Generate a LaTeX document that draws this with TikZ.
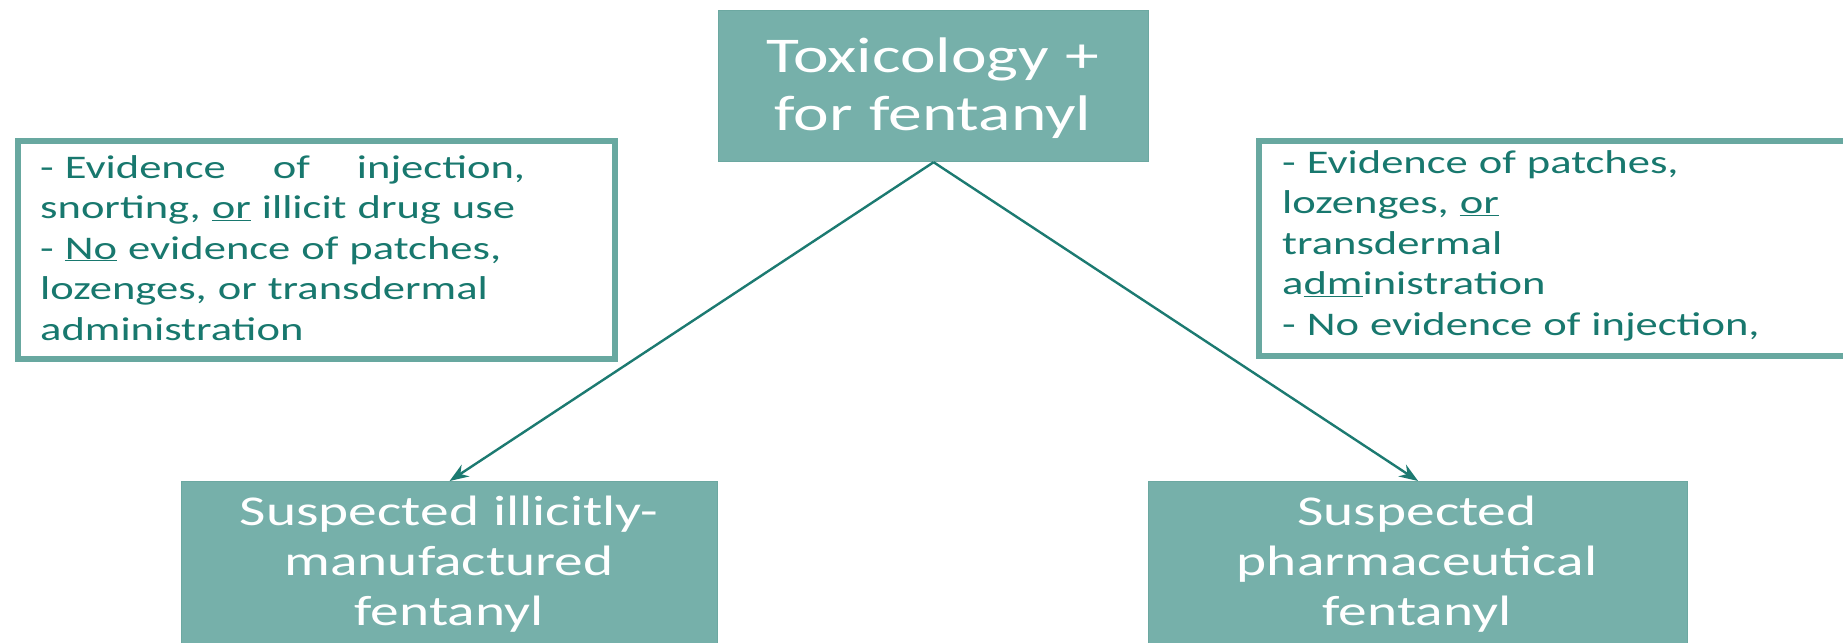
\documentclass[tikz,border=0pt]{standalone}
\usepackage{fontspec}
\setmainfont{Carlito}[FakeStretch=1.35]
\usetikzlibrary{arrows.meta}

\definecolor{boxfill}{RGB}{118,176,170}
\definecolor{boxedge}{RGB}{108,168,161}
\definecolor{noteedge}{RGB}{104,168,160}
\definecolor{notetext}{RGB}{24,120,110}
\definecolor{connteal}{RGB}{28,122,113}

% slightly wider word spacing for the criteria lists
\newcommand\notefontsetup{\fontsize{33}{40.5}\selectfont\spaceskip=0.33em plus 0.1em\relax}

\tikzset{
  tealbox/.style={rectangle, fill=boxfill, draw=boxedge, line width=1.2pt,
    inner sep=0pt, anchor=north west},
  notebox/.style={rectangle, draw=noteedge, line width=6pt, fill=white,
    inner sep=0pt, anchor=north west},
  headtext/.style={anchor=base, inner sep=0pt, text width=420pt, align=center,
    text=white, font=\fontsize{50}{57}\selectfont},
  resulttext/.style={anchor=base, inner sep=0pt, text width=530pt, align=center,
    text=white, font=\fontsize{42.5}{50}\selectfont},
  notetextstyle/.style={anchor=base west, inner sep=0pt, text width=560pt, align=left,
    text=notetext, font=\notefontsetup},
  conn/.style={draw=connteal, line width=2.4pt,
    -{Stealth[length=19pt, width=14pt]}}
}

\begin{document}
\begin{tikzpicture}[x=1pt, y=-1pt]
  \path[use as bounding box] (0,0) rectangle (1843,642);

  % decision boxes
  \node[tealbox, minimum width=430pt, minimum height=151pt] (tox) at (718,10) {};
  \node[tealbox, minimum width=536pt, minimum height=200pt] (illicit) at (181,481) {};
  \node[tealbox, minimum width=539pt, minimum height=200pt] (pharma) at (1148,481) {};

  % criteria boxes
  \node[notebox, minimum width=597pt, minimum height=218pt] (leftnote) at (15,138) {};
  \node[notebox, minimum width=590pt, minimum height=215pt] (rightnote) at (1256,138) {};

  % box texts
  \node[headtext] (toxtxt) at (933,73) {Toxicology +\\for fentanyl};
  \node[resulttext] (illicittxt) at (449,525)
    {Suspected illicitly-\\manufactured\\fentanyl};
  \node[resulttext] (pharmatxt) at (1417,525)
    {Suspected\\pharmaceutical\\fentanyl};

  \node[notetextstyle] (lefttxt) at (40,178)
    {\hbox to 485pt{- Evidence\hfill of\hfill injection,}\\
     snorting,\ \underline{or} illicit drug use\\
     - \underline{No} evidence of patches,\\
     lozenges,\ or transdermal\\
     administration};
  \node[notetextstyle] (righttxt) at (1282,173)
    {- Evidence of patches,\\
     lozenges,\ \underline{or}\\
     transdermal\\
     a\underline{dm}inistration\\
     - No evidence of injection,};

  % connectors
  \draw[conn] (tox.south) -- (illicit.north);
  \draw[conn] (tox.south) -- (pharma.north);
\end{tikzpicture}
\end{document}
